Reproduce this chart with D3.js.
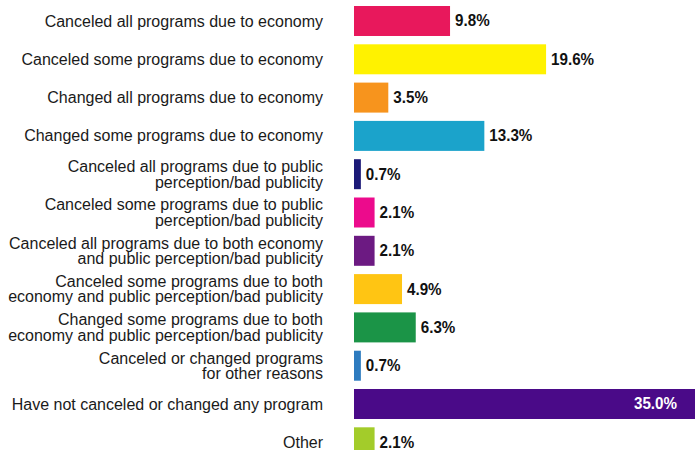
<!DOCTYPE html>
<html>
<head>
<meta charset="utf-8">
<script src="https://cdn.jsdelivr.net/npm/d3@7"></script>
<style>
  html, body { margin: 0; padding: 0; background: #fff; }
  svg { display: block; }
</style>
</head>
<body>
<svg id="chart" width="695" height="450"></svg>
<script>
// Survey responses: how programs were affected
const categories = [
  ["Canceled all programs due to economy"],
  ["Canceled some programs due to economy"],
  ["Changed all programs due to economy"],
  ["Changed some programs due to economy"],
  ["Canceled all programs due to public", "perception/bad publicity"],
  ["Canceled some programs due to public", "perception/bad publicity"],
  ["Canceled all programs due to both economy", "and public perception/bad publicity"],
  ["Canceled some programs due to both", "economy and public perception/bad publicity"],
  ["Changed some programs due to both", "economy and public perception/bad publicity"],
  ["Canceled or changed programs", "for other reasons"],
  ["Have not canceled or changed any program"],
  ["Other"]
];
const values = [9.8, 19.6, 3.5, 13.3, 0.7, 2.1, 2.1, 4.9, 6.3, 0.7, 35.0, 2.1];
const colors = [
  "#e8185c", "#fff200", "#f7941d", "#1ba3cb", "#1c1a78", "#ec0b8c",
  "#6c1a82", "#ffc513", "#1b9447", "#2d7bbf", "#4a0a88", "#a3cc2a"
];

const svg = d3.select("#chart");
const rows = d3.range(values.length);

const x = d3.scaleLinear().domain([0, 35]).range([354, 697]);
const y = d3.scaleBand().domain(rows).range([6, 457.3]).paddingInner(0.217).paddingOuter(0);

// Bars
svg.append("g").selectAll("rect")
  .data(rows)
  .join("rect")
  .attr("x", x(0))
  .attr("y", i => y(i))
  .attr("width", i => x(values[i]) - x(0))
  .attr("height", y.bandwidth())
  .attr("fill", i => colors[i]);

// Category labels, right-aligned left of the bars
const labelX = 323;
const lineH = 15.5;
const cats = svg.append("g")
  .attr("font-family", "'Liberation Sans', Arial, Helvetica, sans-serif")
  .attr("font-size", 16)
  .attr("fill", "#1a1a1a")
  .attr("text-anchor", "end");
rows.forEach(i => {
  const lines = categories[i];
  const cy = y(i) + y.bandwidth() / 2 - (lines.length - 1) * lineH / 2;
  const t = cats.append("text").attr("y", cy);
  lines.forEach((ln, k) => {
    t.append("tspan")
      .attr("x", labelX)
      .attr("y", cy + k * lineH)
      .attr("dy", "0.35em")
      .text(ln);
  });
});

// Value labels: outside the bar, except the longest which sits inside in white
const fmt = d => d.toFixed(1) + "%";
const inside = v => v >= 30;
svg.append("g")
  .attr("font-family", "'Liberation Sans', Arial, Helvetica, sans-serif")
  .attr("font-size", 16.5)
  .attr("font-weight", "bold")
  .selectAll("g")
  .data(rows)
  .join("g")
  .attr("transform", i => {
    const px = inside(values[i]) ? x(values[i]) - 20 : x(values[i]) + 5;
    return `translate(${px},${y(i) + y.bandwidth() / 2}) scale(0.92,1)`;
  })
  .append("text")
  .attr("dy", "0.33em")
  .attr("text-anchor", i => inside(values[i]) ? "end" : "start")
  .attr("fill", i => inside(values[i]) ? "#fff" : "#111")
  .text(i => fmt(values[i]));
</script>
</body>
</html>
